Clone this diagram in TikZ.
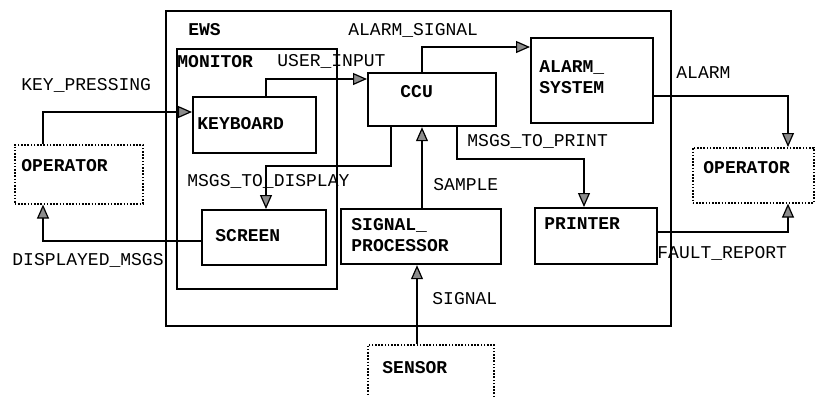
\documentclass[tikz,border=0pt]{standalone}
\usepackage{fontspec}
\setmonofont{Liberation Mono}
\usetikzlibrary{arrows.meta}

\begin{document}
\begin{tikzpicture}[
  x=0.5pt, y=-0.5pt,
  font=\ttfamily\fontsize{9}{10.5}\selectfont,
  blk/.style ={draw, line width=1.1pt, anchor=north west, inner sep=0pt},
  ext/.style ={draw, line width=0.8pt, dash pattern=on 0.8pt off 0.8pt, anchor=north west, inner sep=0pt},
  tag/.style ={font=\ttfamily\bfseries\fontsize{9}{10.5}\selectfont, anchor=west, align=left, inner sep=0pt},
  lbl/.style ={anchor=west, inner sep=0pt},
  flow/.style={-{Triangle[length=7pt, width=6pt, fill=black!45]}, line width=0.6pt}
]
% page, pixel grid (y grows downwards)
\fill[white] (0,0) rectangle (816,397);
\useasboundingbox (0,0) rectangle (816,397);

% system boundary and monitor group
\node[blk, line width=1pt, minimum width=252.5pt, minimum height=157.5pt] (ews) at (165,10) {};
\node[blk, line width=1pt, minimum width=80pt,    minimum height=120pt]   (mon) at (176,48) {};

% processes
\node[blk, minimum width=61.5pt, minimum height=28pt]   (kbd) at (192,96)  {};
\node[blk, minimum width=64pt,   minimum height=26.5pt] (ccu) at (367,72)  {};
\node[blk, minimum width=61pt,   minimum height=42.5pt] (alm) at (530,37)  {};
\node[blk, minimum width=62pt,   minimum height=27.5pt] (scr) at (201,209) {};
\node[blk, minimum width=80pt,   minimum height=27.5pt] (sig) at (340,208) {};
\node[blk, minimum width=61pt,   minimum height=28pt]   (prn) at (534,207) {};

% external entities
\node[ext, minimum width=64pt,   minimum height=29.5pt] (opl) at (14,144)  {};
\node[ext, minimum width=60.5pt, minimum height=27.5pt] (opr) at (692,147) {};
\node[ext, minimum width=63pt,   minimum height=40pt]   (sen) at (367,344) {};

% box titles
\node[tag] (ewsT) at (188,30)  {EWS};
\node[tag] (monT) at (177,62)  {MONITOR};
\node[tag] (kbdT) at (197,124) {KEYBOARD};
\node[tag] (ccuT) at (400,92)  {CCU};
\node[tag] (almT) at (539,77)  {ALARM\_\\SYSTEM};
\node[tag] (scrT) at (215,236) {SCREEN};
\node[tag] (sigT) at (351,235) {SIGNAL\_\\PROCESSOR};
\node[tag] (prnT) at (544,224) {PRINTER};
\node[tag] (oplT) at (21,166)  {OPERATOR};
\node[tag] (oprT) at (703,168) {OPERATOR};
\node[tag] (senT) at (382,368) {SENSOR};

% bend points
\coordinate (kp)  at (43,112);
\coordinate (dm)  at (43,241);
\coordinate (ui)  at (266,79);
\coordinate (as)  at (422,47);
\coordinate (md1) at (391,166);
\coordinate (md2) at (266,166);
\coordinate (mp1) at (457,159);
\coordinate (mp2) at (584,159);
\coordinate (al)  at (788,96);
\coordinate (fr)  at (788,232);
\coordinate (sg)  at (417,300);

% flows
\draw[flow] (opl.north -| kp) |- (kp -| kbd.west);
\draw[flow] (scr.west |- dm) -| (opl.south -| dm);
\draw[flow] (kbd.north -| ui) |- (ccu.west |- ui);
\draw[flow] (ccu.north -| as) |- (alm.west |- as);
\draw[flow] (ccu.south -| md1) -- (md1) -| (scr.north -| md2);
\draw[flow] (sig.north -| as) -- (ccu.south -| as);
\draw[flow] (ccu.south -| mp1) -- (mp1) -| (prn.north -| mp2);
\draw[flow] (alm.east |- al) -| (opr.north -| al);
\draw[flow] (prn.east |- fr) -| (opr.south -| fr);
\draw[flow] (sen.north -| sg) -- (sig.south -| sg);

% flow names
\node[lbl] (kpL) at (21,85)   {KEY\_PRESSING};
\node[lbl] (dmL) at (12,260)  {DISPLAYED\_MSGS};
\node[lbl] (asL) at (348,30)  {ALARM\_SIGNAL};
\node[lbl] (uiL) at (277,61)  {USER\_INPUT};
\node[lbl] (mdL) at (187,181) {MSGS\_TO\_DISPLAY};
\node[lbl] (spL) at (433,185) {SAMPLE};
\node[lbl] (mpL) at (467,141) {MSGS\_TO\_PRINT};
\node[lbl] (alL) at (676,73)  {ALARM};
\node[lbl] (frL) at (657,253) {FAULT\_REPORT};
\node[lbl] (sgL) at (432,299) {SIGNAL};
\end{tikzpicture}
\end{document}
